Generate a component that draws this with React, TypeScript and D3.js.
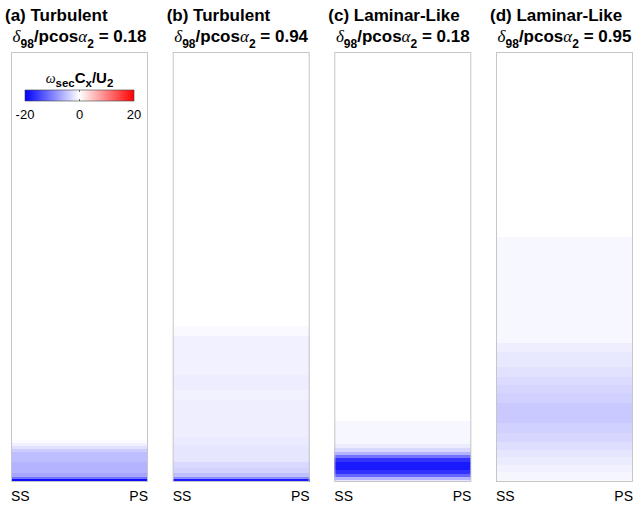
import React, { useEffect, useRef } from "react";
import * as d3 from "d3";

// panel headers
const titles = ["(a) Turbulent", "(b) Turbulent", "(c) Laminar-Like", "(d) Laminar-Like"];
const ratios = ["0.18", "0.94", "0.18", "0.95"];

// spanwise profiles: top of each band (fraction of span, from endwall) and its value
const zA = [0.007, 0.012, 0.021, 0.047, 0.07, 0.077, 0.084, 0.091, 0.097];
const wA = [-19, -11, -7, -6, -5.2, -4, -2.5, -1.2, -0.4];

const zB = [0.007, 0.012, 0.021, 0.033, 0.047, 0.086, 0.105, 0.191, 0.214, 0.249, 0.34, 0.363];
const wB = [-18, -9, -5, -3.5, -3, -2, -1.6, -1.3, -1.0, -1.4, -1.1, -0.5];

const zC = [0.005, 0.012, 0.019, 0.028, 0.047, 0.056, 0.063, 0.07, 0.079, 0.088, 0.142];
const wC = [-2, -6, -12, -16, -18, -16, -11, -6, -3, -1.5, -0.6];

const zD = [0.005, 0.023, 0.04, 0.058, 0.074, 0.093, 0.114, 0.137, 0.184, 0.207, 0.226, 0.244, 0.267, 0.302, 0.323, 0.57];
const wD = [-0.5, -0.7, -1.1, -1.5, -2.0, -2.6, -3.2, -3.6, -4.2, -3.6, -3.3, -2.8, -2.3, -1.8, -1.3, -0.6];

const profiles = [
  { z: zA, w: wA },
  { z: zB, w: wB },
  { z: zC, w: wC },
  { z: zD, w: wD },
];

const cbTicks = [-20, 0, 20];

const W = 634;
const H = 508;

function Chart() {
  const ref = useRef<SVGSVGElement>(null);

  useEffect(() => {
    const svg = d3.select(ref.current);
    svg.selectAll("*").remove();

    const sans = "'Liberation Sans', Arial, sans-serif";
    const serif = "'Liberation Serif', 'Times New Roman', serif";

    const top = 52, bottom = 482;
    const x = d3.scaleBand<number>()
      .domain(d3.range(4))
      .range([11, 633])
      .paddingInner(0.1526)
      .paddingOuter(0);
    const y = d3.scaleLinear().domain([0, 1]).range([bottom, top]);
    const color = d3.scaleLinear<string>()
      .domain([-20, 0, 20])
      .range(["#0000ff", "#ffffff", "#ff0000"])
      .clamp(true);

    profiles.forEach((p, i) => {
      const x0 = x(i)!;
      const bw = x.bandwidth();
      const g = svg.append("g");

      g.append("rect")
        .attr("x", x0).attr("y", top)
        .attr("width", bw).attr("height", bottom - top)
        .attr("fill", "#fff");

      g.selectAll("rect.band")
        .data(p.w)
        .enter()
        .append("rect")
        .attr("class", "band")
        .attr("x", x0)
        .attr("width", bw)
        .attr("y", (d, j) => y(p.z[j]))
        .attr("height", (d, j) => y(j === 0 ? 0 : p.z[j - 1]) - y(p.z[j]))
        .attr("fill", d => color(d))
        .attr("shape-rendering", "crispEdges");

      g.append("rect")
        .attr("x", x0 + 0.5).attr("y", top + 0.5)
        .attr("width", bw - 1).attr("height", bottom - top - 1)
        .attr("fill", "none")
        .attr("stroke", "#c6c6c6")
        .attr("stroke-width", 1);

      // titles
      g.append("text")
        .attr("x", x0 - 6).attr("y", 21)
        .attr("font-family", sans).attr("font-weight", "bold").attr("font-size", 17)
        .attr("fill", "#000")
        .text(titles[i]);

      const t2 = g.append("text")
        .attr("x", x0 + bw / 2).attr("y", 42)
        .attr("text-anchor", "middle")
        .attr("font-family", sans).attr("font-weight", "bold").attr("font-size", 17)
        .attr("fill", "#000");
      t2.append("tspan").attr("font-family", serif).attr("font-style", "italic").attr("font-weight", "normal").text("δ");
      t2.append("tspan").attr("font-size", 12).attr("dy", 6).text("98");
      t2.append("tspan").attr("dy", -6).text("/pcos");
      t2.append("tspan").attr("font-family", serif).attr("font-style", "italic").attr("font-weight", "normal").text("α");
      t2.append("tspan").attr("font-size", 12).attr("dy", 6).text("2");
      t2.append("tspan").attr("dy", -6).text("\u00a0= " + ratios[i]);

      // SS / PS labels
      g.append("text")
        .attr("x", x0).attr("y", 501)
        .attr("font-family", sans).attr("font-size", 14)
        .text("SS");
      g.append("text")
        .attr("x", x0 + bw).attr("y", 501)
        .attr("text-anchor", "end")
        .attr("font-family", sans).attr("font-size", 14)
        .text("PS");
    });

    // colorbar
    const cb = d3.scaleLinear().domain([-20, 20]).range([25, 134]);
    const defs = svg.append("defs");
    const grad = defs.append("linearGradient").attr("id", "cbgrad")
      .attr("x1", "0%").attr("x2", "100%").attr("y1", "0%").attr("y2", "0%");
    d3.range(-20, 20.01, 2).forEach(v => {
      grad.append("stop")
        .attr("offset", `${((v + 20) / 40) * 100}%`)
        .attr("stop-color", color(v));
    });
    const cbTop = 90, cbH = 11;
    svg.append("rect")
      .attr("x", cb(-20)).attr("y", cbTop)
      .attr("width", cb(20) - cb(-20)).attr("height", cbH)
      .attr("fill", "url(#cbgrad)")
      .attr("stroke", "#444").attr("stroke-width", 0.6);
    svg.append("line")
      .attr("x1", cb(0)).attr("x2", cb(0))
      .attr("y1", cbTop).attr("y2", cbTop + 2)
      .attr("stroke", "#333").attr("stroke-width", 0.7);
    svg.append("line")
      .attr("x1", cb(0)).attr("x2", cb(0))
      .attr("y1", cbTop + cbH - 2).attr("y2", cbTop + cbH)
      .attr("stroke", "#333").attr("stroke-width", 0.7);
    svg.selectAll("text.cbt")
      .data(cbTicks)
      .enter()
      .append("text")
      .attr("class", "cbt")
      .attr("x", d => cb(d))
      .attr("y", 119)
      .attr("text-anchor", "middle")
      .attr("font-family", sans).attr("font-size", 13)
      .text(d => String(d));

    const lbl = svg.append("text")
      .attr("x", cb(0)).attr("y", 83)
      .attr("text-anchor", "middle")
      .attr("font-family", sans).attr("font-weight", "bold").attr("font-size", 15);
    lbl.append("tspan").attr("font-family", serif).attr("font-style", "italic").attr("font-weight", "normal").attr("font-size", 14).text("ω");
    lbl.append("tspan").attr("font-size", 11.5).attr("dy", 4).text("sec");
    lbl.append("tspan").attr("dy", -4).text("C");
    lbl.append("tspan").attr("font-size", 11.5).attr("dy", 4).text("x");
    lbl.append("tspan").attr("dy", -4).text("/U");
    lbl.append("tspan").attr("font-size", 11.5).attr("dy", 4).text("2");
  }, []);

  return <svg ref={ref} width={W} height={H} style={{ position: "absolute", left: 0, top: 0, background: "#fff" }} />;
}

export default function App() {
  return <Chart />;
}
